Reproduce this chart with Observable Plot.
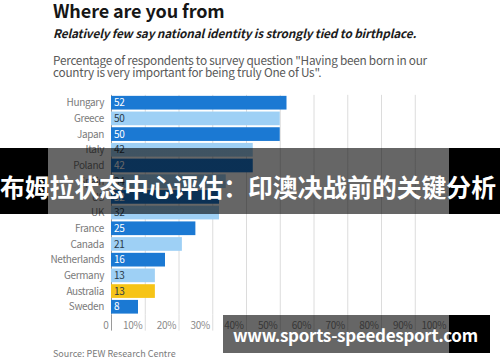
<!DOCTYPE html>
<html><head><meta charset="utf-8">
<script src="https://cdn.jsdelivr.net/npm/d3@7"></script>
<script src="https://cdn.jsdelivr.net/npm/@observablehq/plot@0.6"></script>
<style>
body{margin:0;background:#fff;}
#wrap{position:relative;width:500px;height:362px;overflow:hidden;font-family:"Noto Sans CJK SC","Noto Sans",sans-serif;background:#fff;}
.t{position:absolute;left:53px;white-space:nowrap;}
#title{top:0.5px;font-size:18px;line-height:18px;font-weight:700;color:#161616;letter-spacing:-0.1px;}
#sub{top:26.8px;font-size:11.8px;line-height:12px;font-weight:700;font-style:italic;color:#1c1c1c;letter-spacing:-0.15px;}
#desc{top:54.3px;font-size:11.8px;line-height:12px;color:#595959;letter-spacing:-0.25px;}
#src{top:348.8px;font-size:9px;line-height:10px;color:#7a7a7a;}
#chart{position:absolute;left:0;top:0;}
#banner{position:absolute;top:148px;height:66px;left:0;width:500px;background:linear-gradient(to right,#000 0,#000 48px,rgba(0,0,0,0.6) 48px,rgba(0,0,0,0.6) 449px,#000 449px);}
#bannerText{position:absolute;left:0;top:172.5px;font-size:24.8px;line-height:26px;font-weight:700;color:#fff;white-space:nowrap;}
#wm{position:absolute;top:315px;left:223px;width:267px;height:38px;background:linear-gradient(to right,rgba(0,0,0,0.6) 0,rgba(0,0,0,0.6) 226px,#000 226px);}
#wmText{position:absolute;left:233px;top:324.6px;font-size:17px;line-height:20px;font-weight:700;color:#fff;white-space:nowrap;letter-spacing:-0.3px;}
</style></head><body>
<div id="wrap">
  <div id="chart"></div>
  <div class="t" id="title">Where are you from</div>
  <div class="t" id="sub">Relatively few say national identity is strongly tied to birthplace.</div>
  <div class="t" id="desc">Percentage of respondents to survey question "Having been born in our<br>country is very important for being truly One of Us".</div>
  <div class="t" id="src">Source: PEW Research Centre</div>
  <div id="banner"></div>
  <div id="bannerText">布姆拉状态中心评估：印澳决战前的关键分析</div>
  <div id="wm"></div>
  <div id="wmText">www.sports-speedesport.com</div>
</div>
<script>
const countries = ["Hungary","Greece","Japan","Italy","Poland","Spain","US","UK","France","Canada","Netherlands","Germany","Australia","Sweden"];
const values = [52,50,50,42,42,34,32,32,25,21,16,13,13,8];
const shades = ["dark","light","dark","light","dark","light","dark","light","dark","light","dark","light","highlight","dark"];
const xTicks = [0,10,20,30,40,50,60,70,80,90,100];

const data = countries.map((c,i)=>({country:c, value:values[i], shade:shades[i]}));
const font = '"Noto Sans CJK SC","Noto Sans",sans-serif';
const gridTicks = xTicks.filter(d=>d>0 && d<100);

const chart = Plot.plot({
  width:500, height:362,
  marginTop:94.85, marginBottom:47.4, marginLeft:111, marginRight:51.5,
  style:{fontFamily:font, fontSize:"10px", background:"transparent", overflow:"visible", letterSpacing:"-0.35px"},
  x:{domain:[0,100]},
  y:{domain:countries, padding:0, round:false},
  color:{domain:["dark","light","highlight"], range:["#1b79d3","#9ed0f5","#f6c417"]},
  marks:[
    Plot.gridX(gridTicks, {stroke:"#dcdcdc", strokeOpacity:1}),
    Plot.axisX(gridTicks, {anchor:"bottom", tickSize:16, stroke:"#dcdcdc", fill:"none", label:null}),
    Plot.ruleX([0], {stroke:"#9a9a9a"}),
    Plot.axisX([0], {anchor:"bottom", tickSize:16, stroke:"#9a9a9a", fill:"none", label:null}),
    Plot.axisX(xTicks, {anchor:"bottom", tickSize:0, tickPadding:6.6, stroke:"none", fill:"#8a8a8a", textAnchor:"end", dx:-3, fontSize:10, tickFormat:d=>d===0?"0":d+"%", label:null}),
    Plot.barX(data, {y:"country", x:"value", fill:"shade", insetTop:1, insetBottom:1}),
    Plot.text(data, {y:"country", x:0, text:d=>String(d.value), textAnchor:"start", dx:2.5, fontSize:10,
      fill:d=>d.shade==="dark"?"#ffffff":"#2b3a48"}),
    Plot.axisY({anchor:"left", tickSize:0, tickPadding:7.5, fill:"#7a7a7a", fontSize:10, label:null})
  ]
});
document.getElementById("chart").appendChild(chart);
</script>
</body></html>
